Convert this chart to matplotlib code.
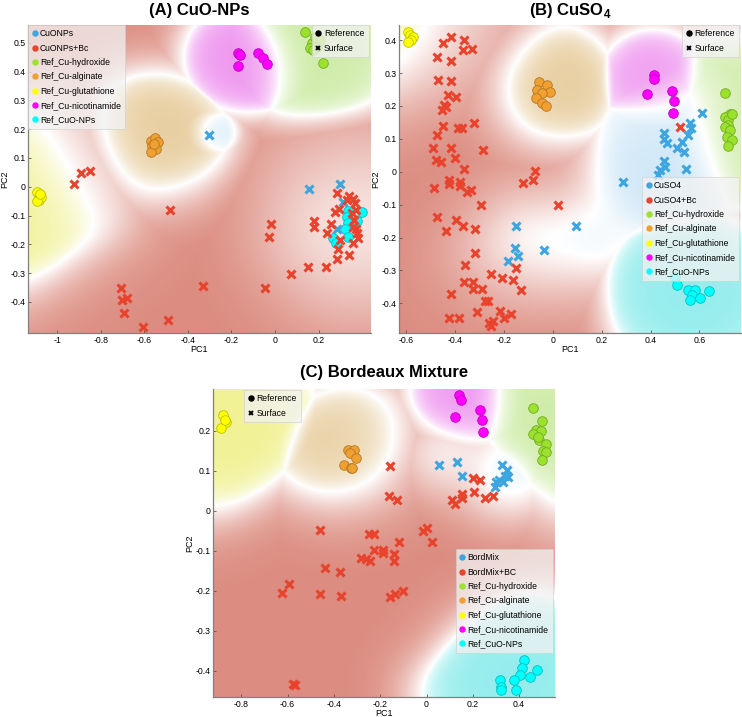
import numpy as np
import matplotlib
matplotlib.use('Agg')
import matplotlib.pyplot as plt
from matplotlib.lines import Line2D

plt.rcParams['font.family'] = ['Liberation Sans', 'DejaVu Sans']
plt.rcParams['mathtext.fontset'] = 'custom'
plt.rcParams['mathtext.rm'] = 'Liberation Sans'
plt.rcParams['mathtext.bf'] = 'Liberation Sans:bold'

# ---------------- class names / colours ----------------
ref_names = ['Ref_Cu-hydroxide', 'Ref_Cu-alginate', 'Ref_Cu-glutathione',
             'Ref_Cu-nicotinamide', 'Ref_CuO-NPs']
class_colors = ['#3da5e0', '#e8432d', '#9be22e', '#f0a030', '#ffff00', '#ff00ff', '#00ffff']
bg_colors = [(196, 226, 245), (220, 140, 128), (205, 235, 165), (230, 202, 152),
             (240, 240, 140), (238, 145, 238), (145, 236, 236)]

# ---------------- Panel A : CuO-NPs ----------------
A_labels = ['CuONPs', 'CuONPs+Bc'] + ref_names
A_sample_x = [-0.301, 0.157, 0.298, 0.313, 0.286]
A_sample_y = [0.179, -0.008, 0.008, -0.052, -0.148]
A_bc_x = [-0.922, -0.888, -0.849, -0.480, -0.018, -0.026, 0.073, 0.150, 0.234, 0.283,
          0.291, 0.298, 0.237, 0.255, 0.179, 0.180, 0.275, 0.286, 0.295, 0.341,
          0.359, 0.367, 0.352, 0.362, 0.372, 0.378, 0.382, 0.359, 0.341, 0.329,
          0.372, 0.356, -0.046, -0.332, -0.708, -0.700, -0.680, -0.693, -0.607, -0.492]
A_bc_y = [0.008, 0.046, 0.054, -0.081, -0.131, -0.176, -0.303, -0.278, -0.280, -0.252,
          -0.218, -0.185, -0.160, -0.130, -0.119, -0.139, -0.087, -0.021, -0.079, -0.032,
          -0.044, -0.056, -0.093, -0.116, -0.148, -0.162, -0.179, -0.194, -0.237, -0.046,
          -0.081, -0.139, -0.350, -0.344, -0.350, -0.394, -0.388, -0.438, -0.486, -0.463]
A_hyd_x = [0.138, 0.168, 0.161, 0.183, 0.206, 0.219, 0.191, 0.176]
A_hyd_y = [0.537, 0.498, 0.480, 0.521, 0.509, 0.428, 0.486, 0.475]
A_alg_x = [-0.570, -0.550, -0.535, -0.565, -0.545, -0.570, -0.555]
A_alg_y = [0.160, 0.170, 0.155, 0.140, 0.130, 0.120, 0.150]
A_glu_x = [-1.090, -1.080, -1.085, -1.075, -1.090, -1.080]
A_glu_y = [-0.020, -0.030, -0.045, -0.035, -0.050, -0.025]
A_nic_x = [-0.168, -0.161, -0.168, -0.076, -0.054, -0.038]
A_nic_y = [0.466, 0.457, 0.419, 0.465, 0.446, 0.426]
A_cuo_x = [0.336, 0.332, 0.336, 0.321, 0.336, 0.398, 0.378, 0.268, 0.280]
A_cuo_y = [-0.083, -0.106, -0.125, -0.148, -0.174, -0.089, -0.118, -0.179, -0.194]

# ---------------- Panel B : CuSO4 ----------------
B_labels = ['CuSO4', 'CuSO4+Bc'] + ref_names
B_sample_x = [0.610, 0.562, 0.565, 0.555, 0.453, 0.456, 0.467, 0.528, 0.507, 0.535,
              0.453, 0.460, 0.439, 0.429, 0.546, 0.287, 0.093, -0.152, -0.155, -0.141,
              -0.186, -0.037]
B_sample_y = [0.179, 0.147, 0.132, 0.111, 0.101, 0.117, 0.086, 0.091, 0.071, 0.061,
              0.032, 0.015, 0.005, -0.010, 0.008, -0.032, -0.164, -0.164, -0.233, -0.256,
              -0.271, -0.238]
B_bc_x = [-0.418, -0.452, -0.363, -0.370, -0.332, -0.475, -0.418, -0.472, -0.418, -0.431,
          -0.397, -0.445, -0.438, -0.454, -0.452, -0.475, -0.493, -0.388, -0.374, -0.322,
          -0.418, -0.288, -0.479, -0.459, -0.400, -0.366, -0.488, -0.424, -0.424, -0.380,
          -0.380, -0.336, -0.350, -0.295, -0.121, -0.080, -0.073, 0.022, -0.475, -0.438,
          -0.395, -0.370, -0.320, -0.320, -0.359, -0.366, -0.327, -0.327, -0.291, -0.418,
          -0.252, -0.279, -0.265, -0.207, -0.163, -0.132, -0.150, -0.309, -0.216, -0.173,
          -0.200, -0.424, -0.384, -0.261, -0.254, -0.244, 0.521]
B_bc_y = [0.410, 0.390, 0.400, 0.370, 0.372, 0.350, 0.336, 0.279, 0.276, 0.233,
          0.226, 0.203, 0.196, 0.187, 0.139, 0.111, 0.071, 0.132, 0.132, 0.147,
          0.071, 0.066, 0.035, 0.030, 0.041, 0.007, -0.049, -0.025, -0.038, -0.030,
          -0.043, -0.054, -0.063, -0.101, -0.033, -0.025, 0.003, -0.102, -0.139, -0.180,
          -0.147, -0.164, -0.175, -0.248, -0.282, -0.334, -0.334, -0.357, -0.357, -0.372,
          -0.311, -0.393, -0.393, -0.322, -0.329, -0.360, -0.294, -0.426, -0.422, -0.431,
          -0.443, -0.446, -0.444, -0.461, -0.469, -0.453, 0.135]
B_hyd_x = [0.705, 0.725, 0.705, 0.718, 0.732, 0.718, 0.705, 0.725, 0.712, 0.732, 0.718]
B_hyd_y = [0.238, 0.177, 0.167, 0.157, 0.177, 0.142, 0.135, 0.127, 0.106, 0.096, 0.079]
B_alg_x = [-0.057, -0.023, -0.010, -0.064, -0.044, -0.071, -0.044, -0.027]
B_alg_y = [0.274, 0.263, 0.243, 0.248, 0.240, 0.223, 0.208, 0.200]
B_glu_x = [-0.595, -0.584, -0.574, -0.581, -0.592]
B_glu_y = [0.426, 0.416, 0.410, 0.400, 0.395]
B_nic_x = [0.412, 0.412, 0.385, 0.487, 0.494, 0.491]
B_nic_y = [0.294, 0.281, 0.235, 0.246, 0.216, 0.179]
B_cuo_x = [0.501, 0.507, 0.555, 0.582, 0.569, 0.562, 0.603, 0.637]
B_cuo_y = [-0.319, -0.344, -0.360, -0.360, -0.375, -0.390, -0.385, -0.362]

# ---------------- Panel C : Bordeaux Mixture ----------------
C_labels = ['BordMix', 'BordMix+BC'] + ref_names
C_sample_x = [0.053, 0.131, 0.154, 0.327, 0.347, 0.337, 0.315, 0.301, 0.294, 0.330, 0.351]
C_sample_y = [0.114, 0.1225, 0.087, 0.114, 0.102, 0.087, 0.077, 0.0725, 0.060, 0.0725, 0.085]
C_bc_x = [-0.157, -0.163, -0.128, 0.111, 0.121, 0.154, 0.154, 0.200, 0.229, 0.203,
          0.253, 0.286, -0.459, -0.249, -0.225, -0.229, -0.186, -0.186, -0.282, -0.261,
          -0.246, -0.142, -0.142, -0.117, -0.016, 0.001, 0.024, -0.440, -0.373, -0.592,
          -0.623, -0.459, -0.368, -0.157, -0.134, -0.102, -0.577, -0.566]
C_bc_y = [0.112, 0.0375, 0.028, 0.028, 0.017, 0.042, 0.033, 0.081, 0.078, 0.046,
          0.031, 0.037, -0.048, -0.057, -0.057, -0.097, -0.097, -0.105, -0.117, -0.121,
          -0.125, -0.107, -0.125, -0.079, -0.050, -0.042, -0.077, -0.143, -0.154, -0.184,
          -0.205, -0.207, -0.2125, -0.215, -0.207, -0.200, -0.434, -0.436]
C_hyd_x = [0.462, 0.499, 0.471, 0.495, 0.459, 0.485, 0.514, 0.502, 0.517, 0.499, 0.480]
C_hyd_y = [0.258, 0.225, 0.203, 0.200, 0.191, 0.178, 0.168, 0.150, 0.1475, 0.127, 0.185]
C_alg_x = [-0.340, -0.315, -0.332, -0.304, -0.357, -0.325, -0.320]
C_alg_y = [0.152, 0.153, 0.145, 0.131, 0.114, 0.108, 0.106]
C_glu_x = [-0.879, -0.865, -0.887, -0.872]
C_glu_y = [0.239, 0.2225, 0.206, 0.228]
C_nic_x = [0.142, 0.150, 0.125, 0.229, 0.239, 0.243]
C_nic_y = [0.289, 0.277, 0.235, 0.253, 0.227, 0.197]
C_cuo_x = [0.423, 0.413, 0.404, 0.380, 0.387, 0.318, 0.322, 0.322, 0.476, 0.448]
C_cuo_y = [-0.373, -0.394, -0.411, -0.423, -0.448, -0.423, -0.440, -0.448, -0.397, -0.415]

A_xlim, A_ylim = (-1.132, 0.438), (-0.509, 0.5615)
B_xlim, B_ylim = (-0.629, 0.770), (-0.491, 0.446)
C_xlim, C_ylim = (-0.921, 0.555), (-0.4665, 0.3035)
A_xticks = [-1, -0.8, -0.6, -0.4, -0.2, 0, 0.2]
A_yticks = [-0.4, -0.3, -0.2, -0.1, 0, 0.1, 0.2, 0.3, 0.4, 0.5]
B_xticks = [-0.6, -0.4, -0.2, 0, 0.2, 0.4, 0.6]
B_yticks = [-0.4, -0.3, -0.2, -0.1, 0, 0.1, 0.2, 0.3, 0.4]
C_xticks = [-0.8, -0.6, -0.4, -0.2, 0, 0.2, 0.4]
C_yticks = [-0.4, -0.3, -0.2, -0.1, 0, 0.1, 0.2]

# kernel widths (fraction of axes) of the smooth class-region classifier
ref_sigmas = [0.08, 0.075, 0.10, 0.06, 0.085]
region_m0 = [2.0, 3.0, 1.5, 1.5, 1.5, 1.5, 1.5]


def logsumexp(a, axis):
    m = a.max(axis=axis, keepdims=True)
    return (m + np.log(np.exp(a - m).sum(axis=axis, keepdims=True))).squeeze(axis)


def draw_background(ax, classes, xlim, ylim, sig_sample, n=260, sig_red=0.10, floor=-2.5):
    sigmas = [sig_sample, sig_red] + ref_sigmas
    gx = np.linspace(xlim[0], xlim[1], n)
    gy = np.linspace(ylim[0], ylim[1], n)
    X, Y = np.meshgrid(gx, gy)
    sx = xlim[1] - xlim[0]
    sy = ylim[1] - ylim[0]
    logs = []
    for k, (px, py) in enumerate(classes):
        px = np.asarray(px); py = np.asarray(py)
        d2 = ((X[..., None] - px) / sx) ** 2 + ((Y[..., None] - py) / sy) ** 2
        s = logsumexp(-d2 / (2 * sigmas[k] ** 2), axis=2)
        if k == 1:
            s = np.logaddexp(s, floor)
        logs.append(s)
    L = np.stack(logs, axis=2)
    order = np.sort(L, axis=2)
    margin = order[..., -1] - order[..., -2]
    k = np.argmax(L, axis=2)
    m0 = np.array(region_m0)[k]
    inten = 1 - np.exp(-margin / m0)
    cmax = np.array(bg_colors, dtype=float)[k] / 255.0
    img = 1 - (1 - cmax) * inten[..., None]
    ax.imshow(img, extent=(xlim[0], xlim[1], ylim[0], ylim[1]), origin='lower',
              aspect='auto', interpolation='bilinear', zorder=0)


def darker(c, f=0.75):
    r, g, b = matplotlib.colors.to_rgb(c)
    return (r * f, g * f, b * f)


def panel(ax, data, labels, xlim, ylim, xticks, yticks, leg_loc, leg_anchor,
          ref_loc, ref_anchor, sig_sample):
    draw_background(ax, data, xlim, ylim, sig_sample)
    for i in range(2, 7):
        px, py = data[i]
        ax.scatter(px, py, s=48, c=class_colors[i], edgecolors=[darker(class_colors[i])],
                   linewidths=0.6, zorder=3)
    for i in range(2):
        px, py = data[i]
        ax.plot(px, py, linestyle='None', marker='x', markersize=5.8, mew=2.2,
                color=class_colors[i], zorder=4)
    ax.set_xlim(xlim)
    ax.set_ylim(ylim)
    ax.set_xticks(xticks)
    ax.set_yticks(yticks)
    ax.set_xticklabels([('%g' % t) for t in xticks])
    ax.set_yticklabels([('%g' % t) for t in yticks])
    ax.tick_params(labelsize=6.3, direction='in', length=2.5, width=0.6,
                   colors='#555555', labelcolor='black', pad=2)
    for s in ['top', 'right']:
        ax.spines[s].set_visible(False)
    for s in ['left', 'bottom']:
        ax.spines[s].set_color('#808080')
        ax.spines[s].set_linewidth(0.9)
    ax.set_xlabel('PC1', fontsize=6.5, labelpad=0)
    ax.set_ylabel('PC2', fontsize=6.5, labelpad=1)

    handles = [Line2D([], [], linestyle='None', marker='o', markersize=3.6,
                      markerfacecolor=class_colors[i], markeredgecolor=class_colors[i])
               for i in range(7)]
    leg = ax.legend(handles, labels, loc=leg_loc, bbox_to_anchor=leg_anchor,
                    fontsize=6.2, handlelength=0.5, handletextpad=0.35,
                    labelspacing=0.62, borderpad=0.5, borderaxespad=0,
                    frameon=True, fancybox=False, framealpha=0.75)
    leg.get_frame().set_facecolor('#f2f2f2')
    leg.get_frame().set_edgecolor('#d0d0d0')
    leg.get_frame().set_linewidth(0.6)
    leg.set_zorder(6)
    ax.add_artist(leg)

    rh = [Line2D([], [], linestyle='None', marker='o', markersize=3.6, color='black'),
          Line2D([], [], linestyle='None', marker='x', markersize=3.4, mew=1.4, color='black')]
    leg2 = ax.legend(rh, ['Reference', 'Surface'], loc=ref_loc, bbox_to_anchor=ref_anchor,
                     fontsize=6.2, handlelength=0.5, handletextpad=0.45,
                     labelspacing=0.62, borderpad=0.5, borderaxespad=0,
                     frameon=True, fancybox=False, framealpha=0.75)
    leg2.get_frame().set_facecolor('#f2f2f2')
    leg2.get_frame().set_edgecolor('#d0d0d0')
    leg2.get_frame().set_linewidth(0.6)
    leg2.set_zorder(6)


W, H = 742, 717
fig = plt.figure(figsize=(W / 100, H / 100), dpi=100)

axA = fig.add_axes([28.3 / W, 1 - 333.3 / H, 342.2 / W, 308.3 / H])
axB = fig.add_axes([399.3 / W, 1 - 333.3 / H, 341.7 / W, 308.3 / H])
axC = fig.add_axes([213.3 / W, 1 - 697.3 / H, 341.7 / W, 308.0 / H])

A_data = [(A_sample_x, A_sample_y), (A_bc_x, A_bc_y), (A_hyd_x, A_hyd_y), (A_alg_x, A_alg_y),
          (A_glu_x, A_glu_y), (A_nic_x, A_nic_y), (A_cuo_x, A_cuo_y)]
B_data = [(B_sample_x, B_sample_y), (B_bc_x, B_bc_y), (B_hyd_x, B_hyd_y), (B_alg_x, B_alg_y),
          (B_glu_x, B_glu_y), (B_nic_x, B_nic_y), (B_cuo_x, B_cuo_y)]
C_data = [(C_sample_x, C_sample_y), (C_bc_x, C_bc_y), (C_hyd_x, C_hyd_y), (C_alg_x, C_alg_y),
          (C_glu_x, C_glu_y), (C_nic_x, C_nic_y), (C_cuo_x, C_cuo_y)]

panel(axA, A_data, A_labels, A_xlim, A_ylim, A_xticks, A_yticks,
      'upper left', (0.0, 1.0), 'upper right', (0.995, 1.0), 0.035)
panel(axB, B_data, B_labels, B_xlim, B_ylim, B_xticks, B_yticks,
      'upper right', (0.995, 0.507), 'upper right', (0.995, 1.0), 0.075)
panel(axC, C_data, C_labels, C_xlim, C_ylim, C_xticks, C_yticks,
      'upper right', (0.994, 0.481), 'upper left', (0.09, 0.998), 0.055)

fig.text((28.3 + 370.5) / 2 / W, 1 - 11 / H, '(A) CuO-NPs', fontsize=12, fontweight='bold',
         ha='center', va='center')
fig.text((399.3 + 741) / 2 / W, 1 - 11 / H, r'(B) CuSO$_\mathbf{4}$', fontsize=12,
         fontweight='bold', ha='center', va='center')
fig.text((213.3 + 555) / 2 / W, 1 - 373 / H, '(C) Bordeaux Mixture', fontsize=12,
         fontweight='bold', ha='center', va='center')

fig.savefig('out.png', dpi=100)
